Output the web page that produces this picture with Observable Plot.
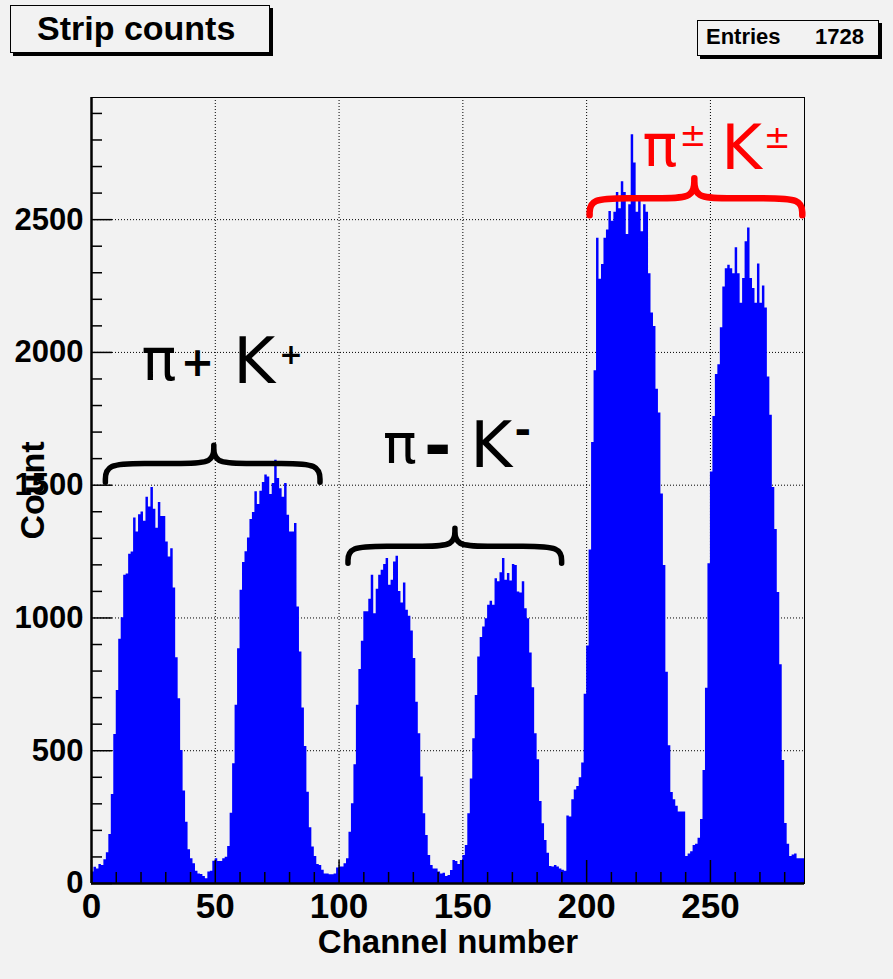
<!DOCTYPE html>
<html><head><meta charset="utf-8">
<script src="https://cdn.jsdelivr.net/npm/d3@7"></script>
<script src="https://cdn.jsdelivr.net/npm/@observablehq/plot@0.6"></script>
<style>
html,body{margin:0;padding:0;background:#f2f2f2;}
#wrap{position:relative;width:893px;height:979px;overflow:hidden;background:#f2f2f2;}
#chart{position:absolute;left:0;top:0;}
.box{position:absolute;background:#f2f2f2;border:1px solid #000;box-shadow:3px 3px 0 #000;font-family:"Liberation Sans",Arial,sans-serif;font-weight:bold;color:#000;}
.box span{position:absolute;white-space:nowrap;}
</style></head><body>
<div id="wrap">
  <div id="chart"></div>
  <div class="box" style="left:10px;top:5px;width:258px;height:46px;">
    <span id="title" style="left:26px;top:5px;font-size:34px;line-height:34px;">Strip counts</span>
  </div>
  <div class="box" style="left:697px;top:20px;width:180px;height:34px;">
    <span style="left:8px;top:5px;font-size:22px;line-height:22px;">Entries</span>
    <span style="right:14px;top:5px;font-size:22px;line-height:22px;">1728</span>
  </div>
</div>
<script>
// ---- data: counts per channel (channel 0..287) ----
const counts = [
  43, 61, 55, 72, 68, 89, 116, 185, 335, 561,
  727, 920, 1001, 1161, 1166, 1240, 1248, 1376, 1324, 1389,
  1399, 1364, 1455, 1418, 1491, 1409, 1338, 1435, 1382, 1382,
  1286, 1230, 1261, 1113, 850, 696, 501, 348, 231, 127,
  93, 74, 46, 36, 34, 26, 18, 43, 46, 84,
  93, 83, 83, 93, 99, 139, 265, 451, 671, 884,
  1104, 1209, 1249, 1301, 1371, 1397, 1475, 1427, 1477, 1510,
  1538, 1531, 1465, 1506, 1594, 1525, 1487, 1455, 1506, 1387,
  1324, 1324, 1356, 1041, 872, 661, 516, 344, 210, 137,
  102, 72, 68, 50, 36, 36, 33, 33, 36, 58,
  62, 62, 74, 93, 193, 300, 447, 671, 806, 912,
  1023, 1023, 1070, 1161, 1016, 1108, 1161, 1180, 1201, 1224,
  1123, 1142, 1211, 1232, 1100, 1056, 1132, 1029, 1006, 951,
  847, 683, 564, 401, 263, 181, 105, 68, 55, 55,
  43, 36, 39, 26, 30, 49, 87, 83, 72, 87,
  105, 143, 263, 394, 545, 708, 853, 926, 966, 997,
  1048, 1063, 1048, 1148, 1136, 1170, 1224, 1142, 1167, 1139,
  1201, 1198, 1098, 1094, 1136, 1035, 997, 868, 737, 564,
  466, 309, 225, 162, 114, 64, 62, 68, 62, 55,
  50, 46, 254, 250, 315, 352, 365, 398, 454, 713,
  894, 1256, 1661, 1931, 2430, 2276, 2331, 2430, 2461, 2531,
  2494, 2528, 2602, 2541, 2643, 2602, 2444, 2556, 2820, 2713,
  2528, 2570, 2454, 2556, 2528, 2296, 2148, 2098, 1861, 1772,
  1467, 1198, 796, 519, 343, 315, 291, 269, 269, 269,
  102, 111, 120, 143, 148, 170, 241, 426, 735, 1204,
  1550, 1759, 1917, 1954, 2093, 2246, 2315, 2328, 2315, 2296,
  2394, 2296, 2185, 2278, 2417, 2469, 2278, 2241, 2185, 2333,
  2185, 2250, 2167, 1907, 1763, 1491, 1333, 1096, 824, 463,
  226, 148, 102, 107, 111, 93, 93, 93
];
const nChannels = 288;
const yMax = 2960;

// ---- axis ticks ----
const xMajorTicks = [0, 50, 100, 150, 200, 250];
const xMinorTicks = [10,20,30,40,60,70,80,90,110,120,130,140,160,170,180,190,210,220,230,240,260,270,280];
const yMajorTicks = [0, 500, 1000, 1500, 2000, 2500];
const yMinorTicks = [100,200,300,400,600,700,800,900,1100,1200,1300,1400,1600,1700,1800,1900,2100,2200,2300,2400,2600,2700,2800,2900];
const xGrid = [50, 100, 150, 200, 250];
const yGrid = [500, 1000, 1500, 2000, 2500];
const xLabel = "Channel number";
const yLabel = "Count";

// ---- annotations (data coordinates: channel, count) ----
const braces = [
  {id: "pos", xL: 5.6,   xR: 92.3,  xc: 49.4,  yH: 1582, yE: 1511, yC: 1650},
  {id: "neg", xL: 103.6, xR: 189.9, xc: 146.8, yH: 1270, yE: 1206, yC: 1338},
  {id: "all", xL: 201.2, xR: 287.1, xc: 243.5, yH: 2581, yE: 2517, yC: 2656}
];
const labelsBlack = [
  {t: "π", x: 20.2,  y: 1895, s: 58},
  {t: "K", x: 57.3,  y: 1884, s: 64},
  {t: "π", x: 117.7, y: 1582, s: 56},
  {t: "K", x: 153.0, y: 1567, s: 64}
];
const signsBlack = [
  {t: "+", x: 36.0,  y: 1910, s: 40},
  {t: "+", x: 75.8,  y: 1956, s: 28},
  {t: "-", x: 134.3, y: 1564, s: 66},
  {t: "-", x: 170.9, y: 1654, s: 40}
];
const labelsRed = [
  {t: "π", x: 222.6, y: 2701, s: 58},
  {t: "K", x: 254.4, y: 2690, s: 62}
];
const signsRed = [
  {t: "±", x: 237.5, y: 2777, s: 32},
  {t: "±", x: 271.5, y: 2769, s: 32}
];

// histogram as step area
const bins = counts.map((c, i) => ({x: i, count: c}));
bins.push({x: nChannels, count: counts[counts.length - 1]});

// brace control points (in data units), drawn with a basis curve
function bracePoints(b) {
  const rx = 8, cw = 6.5;
  const p = [
    [b.xL, b.yE], [b.xL, b.yH], [b.xL + 2 * rx, b.yH], [b.xc - 2 * cw, b.yH], [b.xc, b.yH],
    [b.xc, b.yC], [b.xc, b.yC], [b.xc, b.yC],
    [b.xc, b.yH], [b.xc + 2 * cw, b.yH], [b.xR - 2 * rx, b.yH], [b.xR, b.yH], [b.xR, b.yE]
  ];
  return p.map(([x, y]) => ({id: b.id, x, y}));
}
const bracePts = braces.flatMap(bracePoints);
const annoFont = "'DejaVu Sans', sans-serif";

const chart = Plot.plot({
  width: 893,
  height: 979,
  marginLeft: 91,
  marginRight: 89,
  marginTop: 97,
  marginBottom: 96,
  x: {domain: [0, nChannels], axis: null},
  y: {domain: [0, yMax], axis: null},
  style: {background: "transparent", fontFamily: "'Liberation Sans', Arial, sans-serif", fontWeight: "bold", color: "#000", overflow: "visible"},
  marks: [
    Plot.ruleX(xGrid, {x: d => d, stroke: "#000", strokeWidth: 1, strokeDasharray: "1,2"}),
    Plot.ruleY(yGrid, {y: d => d, stroke: "#000", strokeWidth: 1, strokeDasharray: "1,2"}),
    Plot.areaY(bins, {x: "x", y: "count", curve: "step-after", fill: "#0000ff"}),
    Plot.frame({stroke: "#000", strokeWidth: 1}),
    Plot.ruleX([0], {x: d => d, stroke: "#000", strokeWidth: 2.5}),
    Plot.ruleY([0], {y: d => d, stroke: "#000", strokeWidth: 2.5}),
    // x ticks (inside)
    Plot.ruleX(xMajorTicks, {x: d => d, y1: 0, y2: 0, insetTop: -23, stroke: "#000", strokeWidth: 1.5}),
    Plot.ruleX(xMinorTicks, {x: d => d, y1: 0, y2: 0, insetTop: -11, stroke: "#000", strokeWidth: 1.5}),
    // y ticks (inside)
    Plot.ruleY(yMajorTicks, {y: d => d, x1: 0, x2: 0, insetRight: -21, stroke: "#000", strokeWidth: 1.5}),
    Plot.ruleY(yMinorTicks, {y: d => d, x1: 0, x2: 0, insetRight: -11, stroke: "#000", strokeWidth: 1.5}),
    // tick labels
    Plot.text(xMajorTicks, {x: d => d, frameAnchor: "bottom", lineAnchor: "top", dy: 10, fontSize: 35, text: d => String(d)}),
    Plot.text(yMajorTicks, {y: d => d, frameAnchor: "left", textAnchor: "end", lineAnchor: "middle", dx: -8, fontSize: 31, text: d => String(d)}),
    // axis titles
    Plot.text([xLabel], {frameAnchor: "bottom", lineAnchor: "middle", dy: 59, fontSize: 33}),
    Plot.text([yLabel], {frameAnchor: "left", textAnchor: "middle", lineAnchor: "middle", rotate: -90, dx: -58, fontSize: 34}),
    // braces
    Plot.line(bracePts.filter(d => d.id !== "all"), {x: "x", y: "y", z: "id", curve: "basis", stroke: "#000", strokeWidth: 5.5, strokeLinecap: "round", strokeLinejoin: "round"}),
    Plot.line(bracePts.filter(d => d.id === "all"), {x: "x", y: "y", z: "id", curve: "basis", stroke: "#ff0000", strokeWidth: 6.5, strokeLinecap: "round", strokeLinejoin: "round"}),
    // particle labels
    Plot.text(labelsBlack, {x: "x", y: "y", text: "t", fontSize: "s", textAnchor: "start", lineAnchor: "bottom", fill: "#000", fontWeight: "normal", fontFamily: annoFont}),
    Plot.text(signsBlack, {x: "x", y: "y", text: "t", fontSize: "s", textAnchor: "start", lineAnchor: "bottom", fill: "#000", fontWeight: "bold", fontFamily: annoFont}),
    Plot.text(labelsRed, {x: "x", y: "y", text: "t", fontSize: "s", textAnchor: "start", lineAnchor: "bottom", fill: "#ff0000", fontWeight: "normal", fontFamily: annoFont}),
    Plot.text(signsRed, {x: "x", y: "y", text: "t", fontSize: "s", textAnchor: "start", lineAnchor: "bottom", fill: "#ff0000", fontWeight: "normal", fontFamily: annoFont})
  ]
});
document.getElementById("chart").appendChild(chart);
</script>
</body></html>
